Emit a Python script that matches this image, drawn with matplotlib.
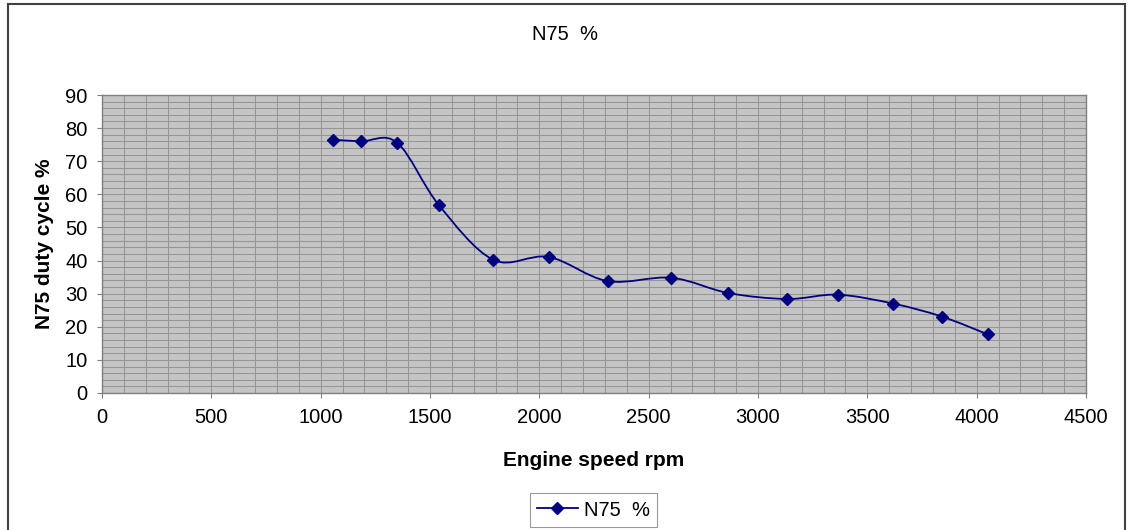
import matplotlib
matplotlib.use("Agg")
import matplotlib.pyplot as plt
from matplotlib.path import Path
from matplotlib.patches import PathPatch, Rectangle
from matplotlib.lines import Line2D
from matplotlib.ticker import MultipleLocator

# ---- data ----
engine_speed = [1055, 1185, 1350, 1540, 1790, 2043, 2312, 2604, 2864, 3134, 3365, 3618, 3840, 4051]
duty_cycle = [76.5, 76.0, 75.6, 56.8, 40.2, 41.1, 33.8, 34.8, 30.2, 28.4, 29.7, 27.0, 23.1, 17.7]
series_name = "N75  %"
chart_title = "N75  %"
x_label = "Engine speed rpm"
y_label = "N75 duty cycle %"
x_ticks = [0, 500, 1000, 1500, 2000, 2500, 3000, 3500, 4000, 4500]
y_ticks = [0, 10, 20, 30, 40, 50, 60, 70, 80, 90]

plt.rcParams['font.family'] = ['Liberation Sans', 'DejaVu Sans']

W, H = 1131, 530
fig = plt.figure(figsize=(W / 100, H / 100), dpi=100)
fig.patch.set_facecolor('white')

left, right, bottom, top = 102, 1086, 393, 95
ax = fig.add_axes([left / W, (H - bottom) / H, (right - left) / W, (bottom - top) / H])
ax.set_facecolor('#c4c4c4')
ax.set_xlim(x_ticks[0], x_ticks[-1])
ax.set_ylim(y_ticks[0], y_ticks[-1])
ax.set_xticks(x_ticks)
ax.set_yticks(y_ticks)
ax.xaxis.set_minor_locator(MultipleLocator(100))
ax.yaxis.set_minor_locator(MultipleLocator(2))
ax.grid(which='both', color='#959595', linewidth=0.75)
ax.set_axisbelow(True)
ax.tick_params(which='minor', length=0)
ax.tick_params(which='major', length=3.5, width=0.8, color='#808080', pad=7,
               labelsize=14.5, labelcolor='black')
for s in ax.spines.values():
    s.set_color('#808080')
    s.set_linewidth(1.0)

# smoothed line (Excel-like Catmull-Rom Bezier through data points)
pts = list(zip(engine_speed, duty_cycle))
verts = [pts[0]]
codes = [Path.MOVETO]
n = len(pts)
for i in range(n - 1):
    p0 = pts[i - 1] if i > 0 else pts[i]
    p1 = pts[i]
    p2 = pts[i + 1]
    p3 = pts[i + 2] if i + 2 < n else pts[i + 1]
    c1 = (p1[0] + (p2[0] - p0[0]) / 6, p1[1] + (p2[1] - p0[1]) / 6)
    c2 = (p2[0] - (p3[0] - p1[0]) / 6, p2[1] - (p3[1] - p1[1]) / 6)
    verts += [c1, c2, p2]
    codes += [Path.CURVE4, Path.CURVE4, Path.CURVE4]
ax.add_patch(PathPatch(Path(verts, codes), facecolor='none', edgecolor='#000080',
                       linewidth=1.3, zorder=3))
ax.plot(engine_speed, duty_cycle, linestyle='none', marker='D', markersize=6.5,
        color='#000080', zorder=4)

# texts
fig.text(565.5 / W, 1 - 35 / H, chart_title, ha='center', va='center', fontsize=14.5)
fig.text((left + right) / 2 / W, 1 - 460 / H, x_label, ha='center', va='center',
         fontsize=15, fontweight='bold')
fig.text(45 / W, 1 - 244 / H, y_label, ha='center', va='center', rotation=90,
         fontsize=15, fontweight='bold')

# legend
handle = Line2D([], [], color='#000080', linewidth=1.3, marker='D', markersize=6.5)
leg = fig.legend([handle], [series_name], loc='center', bbox_to_anchor=(593.5 / W, 1 - 510 / H),
                 fontsize=14.5, frameon=True, fancybox=False, handlelength=2.0,
                 borderpad=0.35, handletextpad=0.3)
leg.get_frame().set_edgecolor('#808080')
leg.get_frame().set_linewidth(0.8)

# outer chart border
fig.patches.append(Rectangle((8 / W, -0.02), (1125 - 8) / W, 1 - 4 / H + 0.02,
                             transform=fig.transFigure, fill=False,
                             edgecolor='#404040', linewidth=1.5))

fig.savefig('out.png', dpi=100)
